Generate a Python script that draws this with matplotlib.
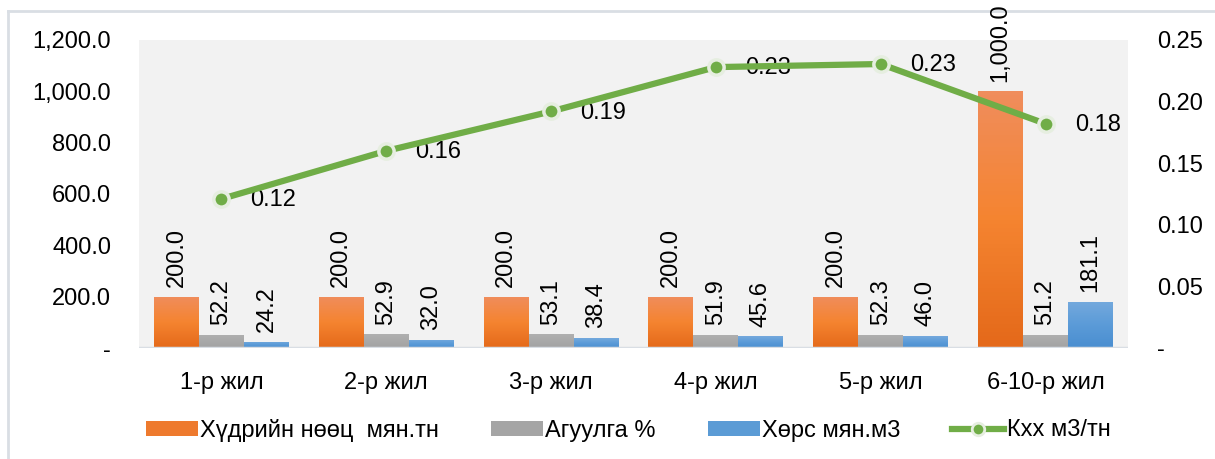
import matplotlib
matplotlib.use("Agg")
import matplotlib.pyplot as plt
import numpy as np
from matplotlib.lines import Line2D
from matplotlib.patches import Patch
from matplotlib.colors import LinearSegmentedColormap
from matplotlib.ticker import FuncFormatter

plt.rcParams['font.family'] = ['Liberation Sans', 'DejaVu Sans']

categories = ["1-р жил", "2-р жил", "3-р жил", "4-р жил", "5-р жил", "6-10-р жил"]
reserve = [200.0, 200.0, 200.0, 200.0, 200.0, 1000.0]
content = [52.2, 52.9, 53.1, 51.9, 52.3, 51.2]
stripping = [24.2, 32.0, 38.4, 45.6, 46.0, 181.1]
kxx = [0.121, 0.160, 0.192, 0.228, 0.2305, 0.182]
series_names = ["Хүдрийн нөөц  мян.тн", "Агуулга %", "Хөрс мян.м3", "Кхх м3/тн"]

c_orange = "#EE7A2E"
c_gray = "#A5A5A5"
c_blue = "#5B9BD5"
c_green = "#70AD47"
grad = {
    c_orange: ("#E4691A", "#F58430", "#F08D5C"),
    c_gray: ("#A2A2A2", "#A9A9A9", "#B0B0B0"),
    c_blue: ("#4A8ED0", "#5B9BD8", "#74A9DD"),
}

fig = plt.figure(figsize=(12.15, 4.59), dpi=100)
ax = fig.add_axes([139/1215, 1-348/459, (1128-139)/1215, (348-40)/459])
ax.set_facecolor("#F2F2F2")

x = np.arange(len(categories))
w = 0.273
fs = 17

b1 = ax.bar(x - w, reserve, w, color=c_orange, zorder=2)
b2 = ax.bar(x, content, w, color=c_gray, zorder=2)
b3 = ax.bar(x + w, stripping, w, color=c_blue, zorder=2)

ax.set_xlim(-0.5, len(categories) - 0.5)
ax.set_ylim(0, 1200)

# vertical gradient fill on each bar
for bars, col in ((b1, c_orange), (b2, c_gray), (b3, c_blue)):
    cmap = LinearSegmentedColormap.from_list("g", grad[col])
    for r in bars:
        r.set_facecolor("none")
        x0, h, bw = r.get_x(), r.get_height(), r.get_width()
        im = ax.imshow(np.linspace(0, 1, 64).reshape(-1, 1), cmap=cmap, origin="lower",
                       extent=(x0, x0 + bw, 0, h), aspect="auto", zorder=2)
        im.set_clip_path(r)
ax.set_xlim(-0.5, len(categories) - 0.5)
ax.set_ylim(0, 1200)

for bars, vals in ((b1, reserve), (b2, content), (b3, stripping)):
    for r, v in zip(bars, vals):
        ax.annotate(f"{v:,.1f}", (r.get_x() + r.get_width()/2, r.get_height()),
                    xytext=(0, 7), textcoords="offset points", rotation=90,
                    ha="center", va="bottom", fontsize=fs, color="#000000",
                    annotation_clip=False, zorder=5)

ax.set_yticks(np.arange(0, 1201, 200))
ax.yaxis.set_major_formatter(FuncFormatter(lambda v, p: "-" if v == 0 else f"{v:,.1f}"))
ax.set_xticks(x)
ax.set_xticklabels(categories)
ax.tick_params(axis="both", length=0, labelsize=fs, colors="#000000")
ax.tick_params(axis="x", pad=17)
ax.tick_params(axis="y", pad=20)
for s in ax.spines.values():
    s.set_visible(False)
ax.axhline(0, color="#D9DEE4", lw=2.5, zorder=3)

ax2 = ax.twinx()
ax2.set_ylim(0, 0.25)
ax2.set_yticks(np.arange(0, 0.2501, 0.05))
ax2.yaxis.set_major_formatter(FuncFormatter(lambda v, p: "-" if abs(v) < 1e-9 else f"{v:.2f}"))
ax2.tick_params(axis="y", length=0, labelsize=fs, pad=21, colors="#000000")
for s in ax2.spines.values():
    s.set_visible(False)
ax2.plot(x, kxx, color=c_green, lw=4.5, marker="o", markersize=11,
         markerfacecolor=c_green, markeredgecolor="#E6EEE0", markeredgewidth=2.5, zorder=4)
for xi, v in zip(x, kxx):
    ax2.annotate(f"{v:.2f}", (xi, v), xytext=(21, -1), textcoords="offset points",
                 ha="left", va="center", fontsize=fs, color="#000000")

handles = [Patch(facecolor=c_orange), Patch(facecolor=c_gray), Patch(facecolor=c_blue),
           Line2D([0], [0], color=c_green, lw=4.5, marker="o", markersize=9,
                  markerfacecolor=c_green, markeredgecolor="#E6EEE0", markeredgewidth=2)]
fig.legend(handles, series_names, loc="center", bbox_to_anchor=(628/1215, 1-430/459),
           ncol=4, frameon=False, fontsize=fs, handlelength=2.2, handleheight=0.6,
           handletextpad=0.1, columnspacing=2.2)

# chart frame (top and left edges visible in the crop)
fig.add_artist(Line2D([8/1215, 1], [1-11/459, 1-11/459], transform=fig.transFigure,
                      color="#D9DEE4", lw=2, zorder=0))
fig.add_artist(Line2D([8/1215, 8/1215], [0, 1-11/459], transform=fig.transFigure,
                      color="#D9DEE4", lw=2, zorder=0))

fig.savefig("out.png", dpi=100)
